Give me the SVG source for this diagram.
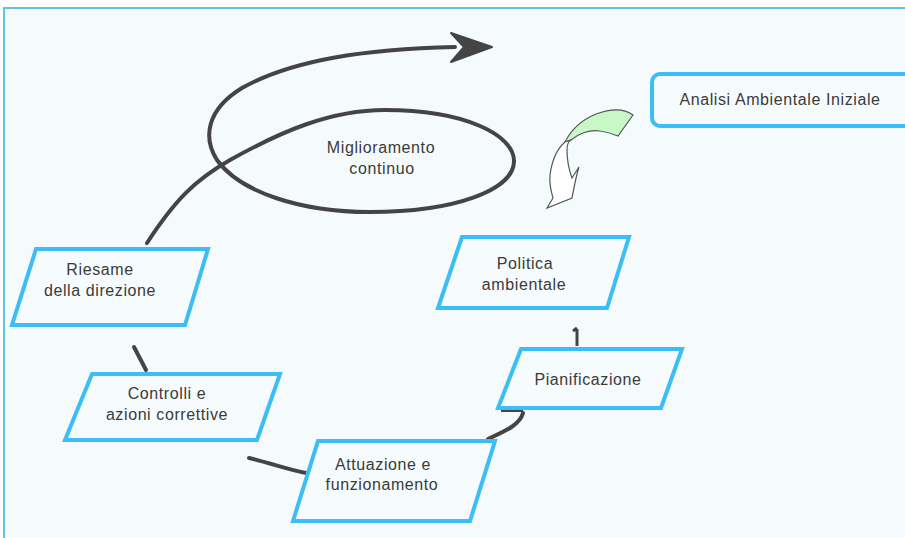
<svg xmlns="http://www.w3.org/2000/svg" width="905" height="538" viewBox="0 0 905 538">
<style>
.box{fill:#f6fcfd;stroke:#3dbdf8;stroke-width:4;stroke-linejoin:miter}
.t{font-family:"Liberation Sans",Arial,sans-serif;font-size:16px;fill:#3a3a3a;text-anchor:middle;letter-spacing:0.6px}
.c{fill:none;stroke:#444;stroke-width:4;stroke-linecap:round}
</style>
<rect x="0" y="0" width="905" height="538" fill="#ffffff"/>
<rect x="4" y="8" width="910" height="540" fill="#f5fbfc" stroke="#5fc2e4" stroke-width="2"/>
<g id="connectors">
<path class="c" d="M147,243 C175,200 195,180 230,160 C280,132 330,110 385,110 C465,110 514,135 514,161 C514,190 455,212 370,212 C300,212 240,192 217,160 C203,138 206,110 242,88 C292,60 365,49 455,47"/>
<path d="M492,47 L451,33 L464,47 L451,62 Z" fill="#444" stroke="#444" stroke-width="2" stroke-linejoin="round"/>
<path class="c" d="M134,347 L146,370"/>
<path class="c" d="M249,458 C270,463 290,470 306,473"/>
<path class="c" d="M488,439 C508,430 520,424 523,413"/>
<path d="M501,411 L523,411" stroke="#444" stroke-width="2" fill="none"/>
<path d="M577,329 L577,346 M573,331 L577,328" stroke="#444" stroke-width="3" fill="none"/>
<path d="M633,115 C625,109 612,108 596,114 C584,119 572,128 565,142 L571,140 C578,134 590,129 600,131 C607,132 613,134 618,136 C623,129 628,122 633,115 Z" fill="#c8f7c8" stroke="#555" stroke-width="1.2"/>
<path d="M565,142 C558,148 552,160 550,175 C549,186 552,194 553,198 L547,208 L572,198 C574,188 576,176 579,167 L572,178 C569,170 567,160 567,150 C567,145 569,141 571,140 Z" fill="#ffffff" stroke="#555" stroke-width="1.2"/>
</g>
<g id="analisi">
<rect class="box" x="652" y="74" width="300" height="52" rx="8"/>
<text class="t" x="780" y="105">Analisi Ambientale Iniziale</text>
</g>
<g id="miglioramento">
<text class="t" x="381" y="153">Miglioramento</text>
<text class="t" x="382" y="174">continuo</text>
</g>
<g id="politica">
<polygon class="box" points="462,237 629,237 607,308 438,308"/>
<text class="t" x="525" y="269">Politica</text>
<text class="t" x="524" y="290">ambientale</text>
</g>
<g id="pianificazione">
<polygon class="box" points="521,349 682,349 661,408 498,408"/>
<text class="t" x="588" y="385">Pianificazione</text>
</g>
<g id="attuazione">
<polygon class="box" points="318,441 495,441 470,521 293,521"/>
<text class="t" x="383" y="470">Attuazione e</text>
<text class="t" x="382" y="490">funzionamento</text>
</g>
<g id="controlli">
<polygon class="box" points="92,374 280,374 257,440 65,440"/>
<text class="t" x="167" y="399">Controlli e</text>
<text class="t" x="167" y="420">azioni correttive</text>
</g>
<g id="riesame">
<polygon class="box" points="36,249 208,249 185,325 12,325"/>
<text class="t" x="100" y="275">Riesame</text>
<text class="t" x="100" y="296">della direzione</text>
</g>
</svg>
